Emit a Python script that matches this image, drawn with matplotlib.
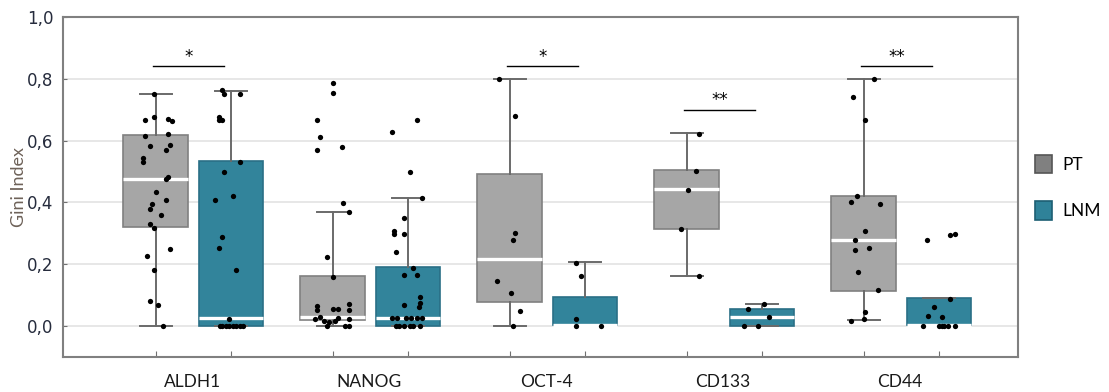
import matplotlib
matplotlib.use('Agg')
import matplotlib.pyplot as plt
from matplotlib.patches import Patch
from matplotlib.ticker import FuncFormatter

# --- data ---
markers = ['ALDH1', 'NANOG', 'OCT-4', 'CD133', 'CD44']

# box stats per marker: (whislo, q1, med, q3, whishi)
pt_stats = [
    (0.0, 0.32, 0.475, 0.618, 0.75),
    (0.0, 0.02, 0.03, 0.162, 0.37),
    (0.0, 0.078, 0.217, 0.492, 0.80),
    (0.162, 0.314, 0.443, 0.505, 0.624),
    (0.02, 0.113, 0.278, 0.42, 0.80),
]
lnm_stats = [
    (0.0, 0.0, 0.025, 0.534, 0.762),
    (0.0, 0.0, 0.027, 0.19, 0.415),
    (0.0, 0.004, 0.004, 0.094, 0.207),
    (0.0, 0.0, 0.03, 0.055, 0.07),
    (0.004, 0.004, 0.004, 0.09, 0.09),
]

pt_values = [
    [0.75, 0.667, 0.676, 0.67, 0.663, 0.615, 0.621, 0.583, 0.586, 0.57, 0.544, 0.531, 0.476, 0.482,
     0.434, 0.395, 0.379, 0.408, 0.359, 0.33, 0.317, 0.249, 0.227, 0.181, 0.081, 0.068, 0.0],
    [0.787, 0.753, 0.667, 0.612, 0.57, 0.58, 0.398, 0.369, 0.223, 0.159, 0.065, 0.052, 0.055, 0.055,
     0.071, 0.052, 0.022, 0.03, 0.018, 0.014, 0.018, 0.026, 0.022, 0.0, 0.0, 0.0],
    [0.8, 0.68, 0.301, 0.278, 0.145, 0.107, 0.05, 0.0],
    [0.621, 0.502, 0.44, 0.314, 0.162],
    [0.8, 0.742, 0.667, 0.421, 0.401, 0.395, 0.307, 0.278, 0.246, 0.252, 0.175, 0.117, 0.045, 0.016, 0.022],
]
pt_jitter = [
    [-0.01, -0.06, -0.01, 0.07, 0.09, -0.06, 0.07, -0.03, 0.08, 0.06, -0.07, -0.07, 0.06, 0.07,
     0.0, -0.02, -0.03, 0.06, 0.03, -0.03, -0.01, 0.08, -0.05, -0.01, -0.03, 0.01, 0.04],
    [0.0, 0.0, -0.09, -0.07, -0.09, 0.05, 0.06, 0.09, -0.03, 0.0, -0.09, -0.09, 0.0, 0.03,
     0.09, 0.09, -0.1, -0.07, -0.05, -0.02, 0.01, 0.03, 0.09, -0.03, 0.07, 0.09],
    [-0.06, 0.03, 0.03, 0.02, -0.07, 0.01, 0.06, 0.02],
    [0.07, 0.05, 0.01, -0.03, 0.07],
    [0.06, -0.06, 0.01, -0.04, -0.07, 0.09, 0.01, -0.05, -0.05, 0.03, -0.03, 0.08, 0.01, -0.07, 0.0],
]

lnm_values = [
    [0.763, 0.75, 0.75, 0.676, 0.667, 0.667, 0.531, 0.498, 0.408, 0.421, 0.288, 0.252, 0.181, 0.022,
     0, 0, 0, 0, 0, 0, 0, 0],
    [0.667, 0.628, 0.498, 0.414, 0.35, 0.307, 0.298, 0.298, 0.24, 0.188, 0.165, 0.165, 0.094, 0.074,
     0.068, 0.062, 0.026, 0.026, 0.026, 0.026, 0.026, 0.026, 0, 0, 0, 0, 0, 0],
    [0.204, 0.162, 0.022, 0, 0],
    [0.071, 0.055, 0.03, 0, 0],
    [0.278, 0.295, 0.298, 0.087, 0.062, 0.032, 0.03, 0, 0, 0, 0, 0, 0],
]
lnm_jitter = [
    [-0.05, -0.04, 0.05, -0.07, -0.07, -0.05, 0.05, -0.04, -0.09, 0.01, -0.05, -0.07, 0.03, -0.01,
     -0.06, -0.05, -0.03, -0.01, 0.01, 0.03, 0.05, 0.07],
    [0.05, -0.09, 0.01, 0.08, -0.02, -0.08, -0.08, -0.02, -0.07, 0.03, -0.02, 0.05, 0.07, 0.07,
     -0.02, 0.06, -0.09, -0.06, -0.01, 0.02, 0.05, 0.08, -0.07, -0.05, -0.02, 0.01, 0.03, 0.07],
    [-0.05, -0.02, -0.05, -0.05, 0.09],
    [0.01, -0.08, 0.04, -0.1, -0.02],
    [-0.07, 0.06, 0.09, 0.06, -0.03, -0.06, 0.02, -0.09, 0.0, 0.02, 0.03, 0.05, 0.09],
]

sig_labels = ['*', '', '*', '**', '**']
sig_heights = [0.84, None, 0.84, 0.70, 0.84]

# --- style ---
PT_FILL, PT_EDGE = '#a6a6a6', '#808080'
LNM_FILL, LNM_EDGE = '#32849b', '#2a6f86'
WHISK = '#6a6a6a'
LABEL_FONT = ['Lato', 'DejaVu Sans']
TICK_FONT = ['Liberation Sans Narrow', 'DejaVu Sans']


def make_stats(stats):
    out = []
    for lo, q1, med, q3, hi in stats:
        out.append(dict(whislo=lo, q1=q1, med=med, q3=q3, whishi=hi, fliers=[]))
    return out


def draw_group(ax, stats, values, jitter, offset, fill, edge):
    pos = [i + offset for i in range(len(stats))]
    ax.bxp(make_stats(stats), positions=pos, widths=0.365, patch_artist=True,
           showfliers=False, capwidths=0.18,
           boxprops=dict(facecolor=fill, edgecolor=edge, linewidth=1.2),
           whiskerprops=dict(color=WHISK, linewidth=1.4),
           capprops=dict(color=WHISK, linewidth=1.4),
           medianprops=dict(color='white', linewidth=2.4, solid_capstyle='butt'),
           zorder=2)
    for p, vals, jit in zip(pos, values, jitter):
        xs = [p + j for j in jit]
        ax.plot(xs, vals, 'o', color='black', markersize=3.8, markeredgewidth=0, zorder=4)
    return pos


fig = plt.figure(figsize=(11.09, 3.92), dpi=100)
ax = fig.add_axes([0.0568, 0.0893, 0.8612, 0.8673])

pt_pos = draw_group(ax, pt_stats, pt_values, pt_jitter, -0.205, PT_FILL, PT_EDGE)
lnm_pos = draw_group(ax, lnm_stats, lnm_values, lnm_jitter, 0.22, LNM_FILL, LNM_EDGE)

# significance bars
for i, (lab, h) in enumerate(zip(sig_labels, sig_heights)):
    if h is None:
        continue
    ax.plot([i - 0.22, i + 0.18], [h, h], color='black', linewidth=1.0, zorder=5)
    ax.text(i - 0.02, h + 0.003, lab, ha='center', va='bottom', fontsize=12,
            color='black', family='DejaVu Sans')

ax.set_xlim(-0.729, 4.667)
ax.set_ylim(-0.1, 1.0)
ax.set_yticks([0.0, 0.2, 0.4, 0.6, 0.8, 1.0])
ax.yaxis.set_major_formatter(FuncFormatter(lambda v, _: f'{v:.1f}'.replace('.', ',')))
ax.grid(axis='y', color='#e3e3e3', linewidth=1.2, zorder=0)
ax.set_axisbelow(True)

ax.set_xticks(sorted(pt_pos + lnm_pos))
ax.set_xticklabels([])
ax.set_xticks(range(len(markers)), minor=True)
ax.set_xticklabels(markers, minor=True, fontsize=12.5, family=LABEL_FONT, color='#1a1a1a')
ax.tick_params(axis='x', which='major', direction='in', length=4, color='#707070')
ax.tick_params(axis='x', which='minor', length=0, pad=12)
ax.tick_params(axis='y', direction='in', length=3, color='#707070', pad=7,
               labelsize=12, labelcolor='#262c3d')
for lab in ax.get_yticklabels():
    lab.set_family(TICK_FONT)

for s in ax.spines.values():
    s.set_color('#808080')
    s.set_linewidth(1.5)

ax.set_ylabel('Gini Index', fontsize=13, family=LABEL_FONT, color='#6e6259', labelpad=0)

handles = [Patch(facecolor='#808080', edgecolor='#555555', linewidth=1.2, label='PT'),
           Patch(facecolor='#2f8299', edgecolor='#1d5f73', linewidth=1.2, label='LNM')]
fig.legend(handles=handles, loc='center left', bbox_to_anchor=(0.933, 0.522),
           frameon=False, borderpad=0, borderaxespad=0, handlelength=1.0, handleheight=1.25,
           handletextpad=0.6, labelspacing=1.6, prop=dict(family=LABEL_FONT, size=12.5))

fig.savefig('out.png', dpi=100)
